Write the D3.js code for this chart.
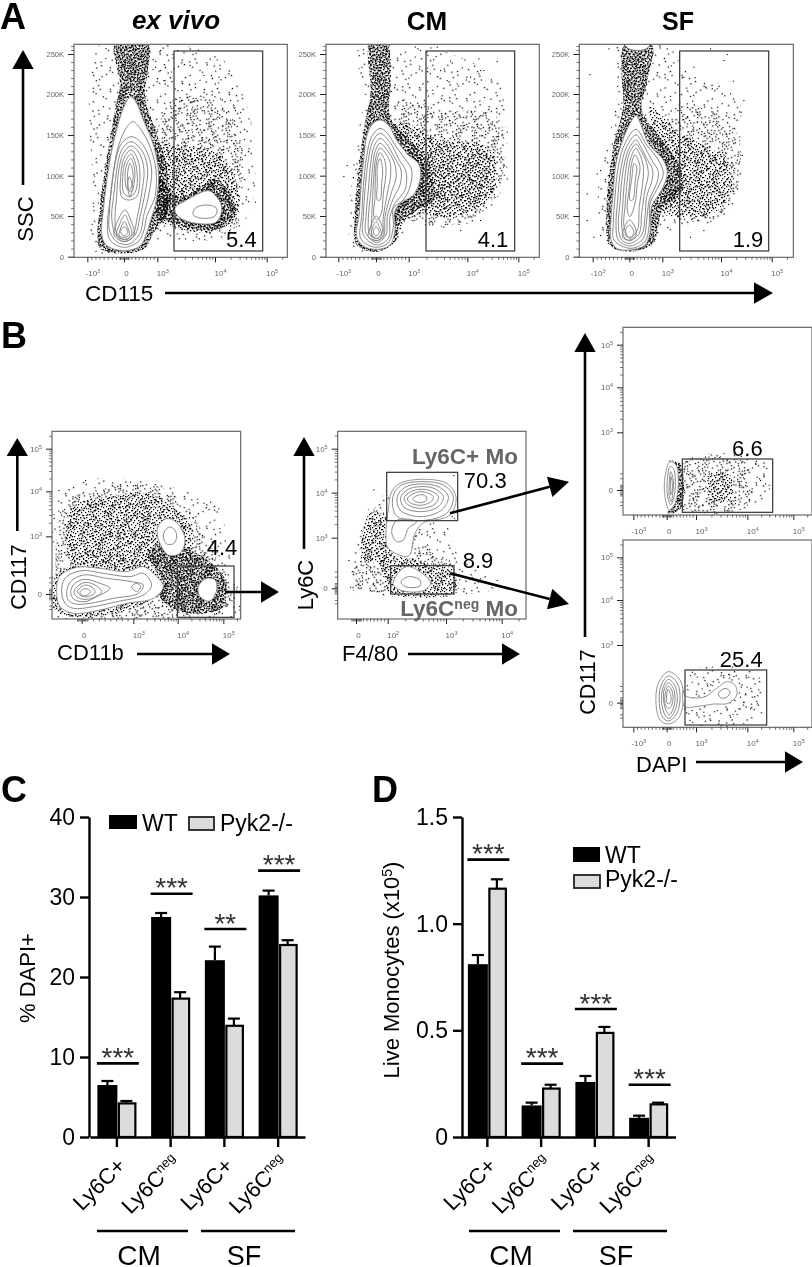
<!DOCTYPE html>
<html><head><meta charset="utf-8">
<script src="https://cdn.jsdelivr.net/npm/d3@7"></script>
<style>
html,body{margin:0;padding:0;background:#fff}
svg{display:block;font-family:"Liberation Sans",Arial,sans-serif;filter:blur(0.3px)}
</style></head><body><div id="chart"></div>
<script>
// ---------- bar chart data ----------
const groups = ['WT','Pyk2-/-'];
const categories = ['CM Ly6C+','CM Ly6Cneg','SF Ly6C+','SF Ly6Cneg'];
const dapiWT = [6.5,27.5,22.1,30.2];
const dapiWTerr = [0.5,0.5,1.7,0.6];
const dapiKO = [4.2,17.3,13.9,24.0];
const dapiKOerr = [0.3,0.8,0.9,0.6];
const dapiSigLevel = [9.2,30.4,26.0,33.3];
const dapiStars = ['***','***','**','***'];
const dapiTicks = [0,10,20,30,40];
const liveWT = [0.81,0.148,0.258,0.09];
const liveWTerr = [0.043,0.013,0.028,0.01];
const liveKO = [1.164,0.227,0.488,0.153];
const liveKOerr = [0.044,0.018,0.028,0.008];
const liveSigLevel = [1.30,0.344,0.60,0.245];
const liveStars = ['***','***','***','***'];
const liveTicks = [0,0.5,1.0,1.5];

// ---------- flow cytometry readings (instrument channels) ----------
const a1Outer = [
 [[392,290],[372,320],[355,370],[340,430],[328,490],[318,560],[310,630],[305,700],[318,735],[370,752],[420,738],[440,700],[452,660],[466,615],[476,530],[462,440],[430,360],[410,310]],
 [[625,572],[560,600],[525,625],[535,650],[590,670],[650,665],[665,620],[645,585]]];
const a1Rings = [
 [[398,365],[375,390],[352,450],[340,520],[330,600],[322,680],[330,720],[370,742],[415,725],[432,690],[440,650],[465,590],[468,510],[450,440],[420,385]],
 [[393,410],[365,430],[345,490],[335,560],[328,640],[328,690],[350,725],[385,733],[420,700],[430,650],[445,590],[455,510],[438,450],[415,420]],
 [[393,425],[365,450],[350,510],[342,580],[335,650],[345,700],[372,725],[405,705],[420,650],[435,580],[443,510],[428,455]],
 [[393,438],[370,460],[355,520],[350,590],[345,650],[350,700],[375,720],[400,700],[412,650],[425,580],[432,510],[418,460]],
 [[393,450],[372,475],[362,530],[365,590],[385,600],[410,590],[420,530],[412,475]],
 [[393,462],[376,485],[368,530],[372,580],[392,590],[408,570],[412,530],[405,485]],
 [[393,475],[380,495],[375,530],[380,565],[395,575],[402,550],[405,520],[400,490]],
 [[390,490],[384,510],[382,540],[388,570],[396,555],[399,520]],
 [[388,530],[383,560],[390,590],[397,560]],
 [[375,630],[352,665],[342,705],[372,725],[402,705],[392,660]],
 [[375,645],[358,675],[350,705],[372,718],[395,705],[385,665]],
 [[373,665],[360,690],[358,708],[372,712],[388,705],[382,680]],
 [[373,680],[362,695],[372,708],[384,697]],
 [[618,615],[585,625],[580,645],[610,655],[645,648],[650,625]]];
const a1Regions = [
 {level:'sparse',pts:[[300,133],[500,133],[660,170],[750,350],[760,600],[720,680],[640,720],[450,720],[280,760],[280,600]]},
 {level:'light',pts:[[520,300],[640,300],[720,400],[720,600],[710,680],[640,700],[520,680],[470,650],[470,400]]},
 {level:'medium',pts:[[470,440],[560,440],[640,450],[700,520],[712,640],[640,695],[520,680],[470,650]]},
 {level:'dense',pts:[[345,133],[445,133],[445,200],[435,290],[470,400],[500,500],[500,640],[460,700],[435,745],[370,760],[300,745],[300,620],[320,480],[345,330],[360,250]]},
 {level:'dense',pts:[[470,530],[540,590],[650,540],[700,600],[700,660],[640,690],[520,670],[470,640]]}];
const a1Outliers = [[650,178],[655,230],[610,225],[590,300],[545,270],[690,300],[745,355],[765,605],[705,330],[530,700],[555,715],[280,522],[278,608],[635,330],[660,295],[610,290],[575,305],[700,320],[720,395],[725,450],[725,500],[480,210],[490,240],[465,200],[480,150],[440,160]];

const a2Outer = [
 [[240,360],[215,375],[200,410],[192,470],[183,560],[178,640],[170,710],[190,738],[230,748],[270,735],[285,690],[283,640],[300,610],[340,585],[362,530],[355,490],[325,465],[290,420],[265,375]]];
const a2Rings = [
 [[240,385],[215,410],[200,470],[190,560],[185,650],[180,710],[195,730],[230,742],[265,728],[280,680],[280,625],[310,600],[330,560],[335,510],[310,470],[285,435],[262,400]],
 [[240,400],[218,425],[205,480],[195,570],[190,650],[190,705],[230,735],[265,715],[270,650],[285,610],[315,570],[318,515],[295,475],[272,430]],
 [[240,415],[222,440],[212,490],[205,570],[198,650],[198,700],[230,728],[258,705],[262,650],[280,595],[300,555],[303,510],[282,470],[262,435]],
 [[240,430],[225,455],[218,500],[212,580],[205,655],[208,700],[230,722],[252,700],[255,650],[275,575],[288,535],[285,495],[268,460]],
 [[240,445],[228,470],[222,520],[218,590],[215,660],[215,700],[230,716],[246,700],[250,650],[262,580],[272,525],[268,480]],
 [[240,458],[230,485],[226,530],[225,590],[222,650],[232,660],[244,640],[250,580],[258,520],[254,480]],
 [[240,475],[232,500],[232,550],[232,600],[240,600],[245,550],[248,510]],
 [[228,648],[212,680],[205,710],[230,722],[252,708],[245,675]],
 [[228,665],[216,688],[215,708],[230,715],[244,705],[238,680]],
 [[228,680],[220,695],[228,708],[238,697]]];
const a2Regions = [
 {level:'sparse',pts:[[180,133],[330,133],[420,150],[590,240],[620,400],[610,560],[530,660],[420,680],[330,680],[300,720],[160,750],[150,620],[170,420],[190,300]]},
 {level:'light',pts:[[300,300],[420,330],[590,350],[610,520],[530,650],[330,660],[290,500]]},
 {level:'medium',pts:[[300,370],[420,420],[560,440],[590,520],[560,610],[440,650],[340,640],[290,690],[290,500]]},
 {level:'mid',pts:[[370,450],[480,470],[570,460],[580,530],[540,600],[440,630],[370,630]]},
 {level:'dense',pts:[[210,133],[260,133],[272,250],[270,350],[330,420],[380,480],[400,600],[350,630],[300,670],[290,720],[230,755],[170,735],[165,640],[180,470],[195,370],[212,280]]}];
const a2Outliers = [[450,182],[535,175],[590,183],[420,210],[535,220],[590,250],[620,395],[130,528],[140,495],[430,680],[480,690],[540,660],[590,520],[620,535],[360,150],[410,140],[575,130],[440,240],[470,250],[510,230],[550,210]];

const a3Outer = [
 [[258,347],[235,380],[215,430],[198,490],[190,570],[183,660],[183,720],[200,745],[240,750],[285,735],[300,700],[305,620],[335,570],[352,520],[340,480],[295,430],[275,380]],
 [[225,133],[260,128],[300,133],[285,148],[240,148]]];
const a3Rings = [
 [[258,388],[225,430],[205,500],[195,590],[190,670],[192,720],[240,745],[285,725],[298,670],[300,610],[325,560],[340,520],[325,480],[290,435]],
 [[258,405],[230,440],[212,510],[203,600],[198,680],[205,720],[240,738],[280,715],[290,660],[298,600],[320,550],[325,515],[305,480],[278,430]],
 [[258,420],[235,450],[218,520],[210,610],[205,680],[215,720],[240,730],[275,705],[285,650],[290,590],[305,545],[308,510],[290,475],[272,440]],
 [[258,432],[238,460],[225,530],[218,620],[215,680],[225,715],[240,722],[268,700],[275,640],[285,570],[295,520],[285,475],[268,445]],
 [[258,445],[242,475],[232,540],[225,620],[222,680],[240,715],[262,690],[268,620],[278,550],[280,500],[268,460]],
 [[255,465],[245,490],[238,560],[232,630],[240,650],[255,610],[262,550],[270,500]],
 [[252,490],[246,530],[240,600],[248,600],[256,540],[260,500]],
 [[238,660],[222,685],[218,712],[240,720],[258,705],[252,675]],
 [[238,675],[226,692],[228,708],[240,712],[252,698]]];
const a3Regions = [
 {level:'sparse',pts:[[200,133],[350,133],[400,200],[560,290],[570,450],[570,560],[510,660],[400,680],[320,720],[170,730],[140,620],[170,440],[200,300]]},
 {level:'light',pts:[[380,330],[480,330],[560,400],[560,570],[500,650],[390,660],[330,600]]},
 {level:'medium',pts:[[300,320],[390,400],[470,440],[530,480],[540,570],[490,640],[390,650],[340,640],[330,500]]},
 {level:'dense',pts:[[225,133],[305,133],[290,250],[275,330],[330,410],[390,500],[395,580],[340,620],[325,680],[310,730],[240,755],[180,735],[170,620],[190,440],[220,320],[215,220]]}];
const a3Outliers = [[118,222],[175,145],[480,145],[530,162],[520,180],[430,200],[400,230],[548,242],[580,300],[572,335],[575,465],[570,520],[110,660],[130,710],[150,705],[140,520],[150,510],[110,580],[460,690],[420,710],[500,265],[465,260],[540,280]];

const b1Outer = [
 [[170,815],[178,770],[230,742],[300,745],[380,755],[430,740],[470,770],[490,800],[460,835],[380,850],[300,870],[220,880],[180,860]],
 [[495,597],[472,625],[478,665],[505,705],[540,700],[555,660],[540,620],[515,598]],
 [[620,775],[595,800],[600,830],[630,843],[650,810],[645,780]]];
const b1Rings = [
 [[185,815],[195,775],[245,752],[310,760],[390,770],[430,760],[455,795],[430,825],[350,845],[280,860],[220,865],[195,850]],
 [[200,815],[212,785],[250,765],[320,775],[395,785],[430,795],[415,820],[340,835],[270,850],[225,852],[205,840]],
 [[212,815],[225,790],[255,778],[300,790],[330,805],[290,830],[255,845],[222,838]],
 [[222,815],[235,797],[258,787],[290,798],[305,815],[280,833],[250,838],[230,830]],
 [[232,815],[243,802],[258,795],[280,805],[285,818],[270,828],[248,830]],
 [[240,817],[250,807],[262,807],[272,815],[262,825],[246,826]],
 [[395,800],[410,790],[422,800],[410,815]],
 [[505,622],[490,645],[500,672],[522,670],[530,645],[520,625]]];
const b1Regions = [
 {level:'sparse',pts:[[150,640],[190,500],[300,475],[420,480],[640,545],[660,570],[700,760],[710,890],[160,890]]},
 {level:'light',pts:[[175,600],[200,540],[300,510],[400,490],[500,510],[580,590],[620,660],[680,760],[690,870],[530,895],[250,895],[160,860],[165,740]]},
 {level:'medium',pts:[[200,680],[220,560],[320,530],[440,520],[520,560],[580,640],[560,720],[480,730],[400,730],[300,730],[220,730]]},
 {level:'dense',pts:[[440,700],[530,680],[590,700],[670,770],[670,860],[600,880],[530,870],[480,830],[490,780]]},
 {level:'medium',pts:[[160,780],[230,730],[430,725],[500,800],[380,870],[230,892],[165,870]]}];
const b1Outliers = [[630,545],[655,565],[610,548],[175,510],[255,480],[390,485],[150,700],[710,800]];

const b2Outer = [
 [[420,238],[360,250],[335,275],[325,330],[318,400],[325,445],[385,468],[405,400],[430,368],[490,355],[515,340],[528,290],[500,250]],
 [[380,500],[350,525],[340,555],[370,573],[430,572],[452,550],[420,515]]];
const b2Rings = [
 [[420,245],[365,255],[342,280],[338,320],[352,350],[420,362],[500,340],[520,290],[490,255]],
 [[420,252],[375,262],[352,290],[360,330],[420,350],[485,330],[505,290],[475,260]],
 [[420,260],[385,268],[362,292],[372,322],[425,335],[475,320],[490,290],[462,265]],
 [[420,268],[392,275],[372,295],[385,315],[425,325],[465,312],[475,290],[450,272]],
 [[420,275],[398,282],[382,297],[398,312],[430,315],[455,303],[460,290],[440,278]],
 [[422,284],[405,290],[398,298],[420,308],[440,300],[437,288]],
 [[352,360],[335,395],[350,425],[370,420],[385,385],[410,365]],
 [[385,530],[363,545],[375,560],[420,558],[420,540]]];
const b2Regions = [
 {level:'sparse',pts:[[300,290],[230,430],[210,560],[240,580],[520,585],[650,560],[540,470],[510,380],[530,360]]},
 {level:'light',pts:[[290,320],[240,440],[225,560],[330,580],[530,580],[520,500],[430,430],[410,400],[350,470]]},
 {level:'medium',pts:[[300,470],[450,490],[520,510],[520,575],[330,580],[310,530]]},
 {level:'medium',pts:[[270,340],[320,350],[330,470],[250,480]]}];
const b2Outliers = [[280,268],[205,480],[520,225],[650,540],[540,620],[210,560]];

const d1Outer = [[[300,425],[285,470],[285,530],[298,570],[315,550],[325,490],[318,435]]];
const d1Rings = [
 [[300,440],[292,480],[293,530],[302,555],[312,530],[316,480],[310,445]],
 [[302,455],[298,490],[298,530],[304,545],[308,520],[310,480]],
 [[303,470],[301,500],[302,525],[305,520],[307,490]]];
const d1Regions = [
 {level:'sparse',pts:[[340,425],[590,425],[590,530],[510,570],[340,570]]},
 {level:'light',pts:[[340,430],[530,430],[530,560],[340,560]]},
 {level:'mid',pts:[[420,460],[480,465],[480,540],[420,540]]},
 {level:'dense',pts:[[295,422],[330,430],[335,560],[310,580],[292,578],[315,550],[325,490],[318,435]]}];
const d1Outliers = [[580,460],[570,480],[585,490],[555,430],[545,505],[580,465],[560,470],[525,495]];

const d2Outer = [[[295,1055],[265,1090],[258,1150],[270,1200],[295,1212],[325,1195],[340,1140],[330,1080]],
 [[340,1110],[345,1127],[400,1132],[440,1105],[470,1085],[495,1095],[500,1125],[475,1150],[430,1152],[380,1160],[345,1160],[338,1140]]];
const d2Rings = [
 [[295,1068],[272,1100],[268,1150],[278,1192],[296,1203],[318,1185],[330,1140],[322,1090]],
 [[295,1078],[278,1105],[275,1150],[285,1185],[297,1195],[312,1178],[322,1140],[315,1098]],
 [[295,1088],[282,1110],[282,1150],[290,1175],[298,1185],[308,1170],[315,1140],[310,1105]],
 [[295,1098],[287,1115],[285,1150],[294,1165],[303,1160],[309,1135],[305,1110]],
 [[295,1108],[290,1125],[292,1150],[300,1150],[303,1130]],
 [[445,1120],[465,1105],[480,1115],[470,1132],[452,1133]]];
const d2Regions = [
 {level:'sparse',pts:[[350,1060],[560,1060],[570,1190],[360,1205]]}];
const d2Outliers = [[380,1070],[360,1065],[410,1090],[460,1065],[475,1062],[490,1068],[505,1075],[535,1070],[565,1108],[395,1105],[425,1095],[445,1085],[512,1100],[525,1120],[545,1130],[560,1150],[520,1145],[540,1165],[505,1165],[470,1165],[440,1170],[400,1175],[385,1190],[420,1200],[480,1190],[500,1182],[365,1170],[355,1180],[510,1130],[530,1100]];

// stipple tile: hand-placed speck columns for each row, used as fill texture
const stippleRows = [[2,9,14,23,31],[5,18,27,35],[0,11,12,21,33],[7,16,25,29],[3,13,20,34],[9,10,24,31,36],[1,6,17,28],[13,22,26,33],[4,8,19,30],[0,15,16,24,35],[11,21,27,32],[3,7,18,29],[12,23,34,36],[1,5,16,26],[9,20,21,31],[3,14,24,28,35],[7,11,18,33],[0,22,26,30],[5,13,15,36],[9,19,24,32],[2,17,28,34],[6,12,21,30],[0,10,25,36],[4,15,19,33],[8,13,23,27],[1,18,29,31],[6,11,22,35],[3,16,26,32],[9,14,20,28],[0,5,24,34],[12,17,30,36]];

// ---------- page ----------
const svg = d3.select('#chart').append('svg').attr('width',812).attr('height',1267).attr('viewBox','0 0 812 1267');
const defs = svg.append('defs');
const specks = stippleRows.flatMap((r,y)=>r.map(x=>[x,y]));
function addTile(id,dots,rot,shift){
  const p = defs.append('pattern').attr('id',id).attr('patternUnits','userSpaceOnUse').attr('width',37).attr('height',31)
    .attr('patternTransform',`rotate(${rot}) translate(${shift[0]},${shift[1]})`);
  p.selectAll('rect').data(dots).join('rect').attr('x',d=>d[0]).attr('y',d=>d[1]).attr('width',1.25).attr('height',1.25).attr('fill','#000');
}
addTile('tA',specks,0,[0,0]);
addTile('tA2',specks,33,[6,5]);
addTile('tA3',specks,71,[3,11]);
addTile('tB',specks.filter((d,i)=>i%2===0),17,[0,0]);
addTile('tC',specks.filter((d,i)=>i%5===0),53,[0,0]);
const levelLayers = {sparse:['tC'],light:['tB'],mid:['tA'],medium:['tA','tC'],dense:['tA','tB','tA2','tA3']};

function rich(sel,parts){
  let pending=0;
  parts.forEach(p=>{
    const s=sel.append('tspan').text(p.t);
    if(p.sup){ s.attr('font-size',p.size).attr('dy',-p.rise); pending=p.rise; }
    else if(pending){ s.attr('dy',pending); pending=0; }
  });
}
function txt(x,y,t,size,o={}){
  const s = svg.append('text').attr('x',x).attr('y',y).attr('font-size',size)
    .attr('text-anchor',o.anchor||'start').attr('fill',o.fill||'#000')
    .attr('font-weight',o.weight||'normal').attr('font-style',o.style||'normal');
  if(o.rot) s.attr('transform',`rotate(${o.rot} ${x} ${y})`);
  if(Array.isArray(t)) rich(s,t); else s.text(t);
  return s;
}
function arrow(x1,y1,x2,y2,hl,hw,w){
  const a=Math.atan2(y2-y1,x2-x1), c=Math.cos(a), s=Math.sin(a);
  const bx=x2-hl*c, by=y2-hl*s;
  svg.append('line').attr('x1',x1).attr('y1',y1).attr('x2',bx).attr('y2',by).attr('stroke','#000').attr('stroke-width',w||2.6);
  svg.append('polygon').attr('points',[[x2,y2],[bx-hw*s,by+hw*c],[bx+hw*s,by-hw*c]].map(p=>p.join(',')).join(' ')).attr('fill','#000');
}

const xLabelsA = [['-10','3'],['0',''],['10','3'],['10','4'],['10','5']];
const yLabelsA = ['250K','200K','150K','100K','50K','0'];
const yLabelsLog = [['10','5'],['10','4'],['10','3'],['0','']];

function logMinors(a,b){return d3.range(2,10).map(k=>a+(b-a)*Math.log10(k));}
function linMinors(a,b,n){return d3.range(1,n).map(k=>a+(b-a)*k/n);}
function pow10Ticks(majors,zeroIdx,frameEnd){
  let out=[];
  for(let i=0;i<majors.length-1;i++){
    if(i<=zeroIdx) out=out.concat(linMinors(majors[i],majors[i+1],9));
    else out=out.concat(logMinors(majors[i],majors[i+1]));
  }
  const n=majors.length, last=majors[n-1], step=last-majors[n-2];
  logMinors(last,last+step).forEach(v=>{ if((v-frameEnd)*(last-frameEnd)>0) out.push(v); });
  d3.range(-14,15,3.5).forEach(v=>out.push(majors[zeroIdx]+v));
  return out;
}

let panelId=0;
function flowPanel(p){
  const id='clip'+(panelId++);
  const x=d3.scaleLinear().domain(p.fx).range(p.fx.map(v=>p.ox+v/3));
  const y=d3.scaleLinear().domain(p.fy).range(p.fy.map(v=>p.oy+v/3));
  const x0=x(p.fx[0]),x1=x(p.fx[1]),y0=y(p.fy[1]),y1=y(p.fy[0]);
  defs.append('clipPath').attr('id',id).append('rect').attr('x',x0).attr('y',y0).attr('width',x1-x0).attr('height',y1-y0);
  const g=svg.append('g');
  const clip=g.append('g').attr('clip-path',`url(#${id})`);
  const lg=d3.line().x(d=>x(d[0])).y(d=>y(d[1])).curve(d3.curveCatmullRomClosed);
  p.regions.forEach(r=>levelLayers[r.level].forEach(t=>clip.append('path').attr('d',lg(r.pts)).attr('fill',`url(#${t})`)));
  clip.selectAll('rect.o').data(p.outliers).join('rect').attr('class','o').attr('x',d=>x(d[0])).attr('y',d=>y(d[1])).attr('width',1.1).attr('height',1.1).attr('fill','#000');
  const lc=d3.line().x(d=>x(d[0])).y(d=>y(d[1])).curve(d3.curveCatmullRomClosed);
  clip.selectAll('path.outer').data(p.outer).join('path').attr('class','outer').attr('d',lc).attr('fill','#fff').attr('stroke','#8a8a8a').attr('stroke-width',.9);
  clip.selectAll('path.ring').data(p.rings).join('path').attr('class','ring').attr('d',lc).attr('fill','none').attr('stroke','#7d7d7d').attr('stroke-width',.9);
  g.append('rect').attr('x',x0).attr('y',y0).attr('width',x1-x0).attr('height',y1-y0).attr('fill','none').attr('stroke','#6a6a6a').attr('stroke-width',1.2);
  p.gates.forEach(r=>g.append('rect').attr('x',x(r[0])).attr('y',y(r[2])).attr('width',x(r[1])-x(r[0])).attr('height',y(r[3])-y(r[2])).attr('fill','none').attr('stroke','#3c3c3c').attr('stroke-width',1.25));
  // axes
  const axX=d3.axisBottom(x).tickValues(p.xt).tickSize(5).tickPadding(8);
  const axXm=d3.axisBottom(x).tickValues(p.xm.filter(v=>v>p.fx[0]&&v<p.fx[1])).tickSize(2.5);
  const gx=g.append('g').attr('transform',`translate(0,${y1})`).call(axX);
  g.append('g').attr('transform',`translate(0,${y1})`).call(axXm).call(s=>s.select('.domain').remove()).call(s=>s.selectAll('text').remove()).call(s=>s.selectAll('line').attr('stroke','#333').attr('stroke-width',.7));
  gx.select('.domain').remove();
  gx.selectAll('line').attr('stroke','#222').attr('stroke-width',1);
  gx.selectAll('.tick text').attr('font-size',8).attr('font-family','inherit').attr('fill','#666').attr('dx',(d,i)=>p.xl[i][1]===''?2:5)
    .each(function(d,i){ d3.select(this).text(null); rich(d3.select(this),[{t:p.xl[i][0]},...(p.xl[i][1]?[{t:p.xl[i][1],sup:true,size:5.5,rise:3}]:[])]); });
  const axY=d3.axisLeft(y).tickValues(p.yt).tickSize(6).tickPadding(4);
  const axYm=d3.axisLeft(y).tickValues(p.ym.filter(v=>v<p.fy[0]&&v>p.fy[1])).tickSize(3);
  const gy=g.append('g').attr('transform',`translate(${x0},0)`).call(axY);
  g.append('g').attr('transform',`translate(${x0},0)`).call(axYm).call(s=>s.select('.domain').remove()).call(s=>s.selectAll('text').remove()).call(s=>s.selectAll('line').attr('stroke','#444').attr('stroke-width',.7));
  gy.select('.domain').remove();
  gy.selectAll('line').attr('stroke','#222').attr('stroke-width',1);
  gy.selectAll('.tick text').attr('font-size',p.ylinear?7.5:8).attr('font-family','inherit').attr('fill','#666')
    .each(function(d,i){ const l=p.yl[i]; d3.select(this).text(null);
      if(typeof l==='string') d3.select(this).text(l);
      else rich(d3.select(this),[{t:l[0]},...(l[1]?[{t:l[1],sup:true,size:5.5,rise:3}]:[])]); });
  p.notes.forEach(n=>txt(x(n[0]),y(n[1]),n[2],22,{anchor:'end'}));
}

function xA(m){return {xt:m,xm:pow10Ticks(m,1,99999),xl:xLabelsA};}
const yA=[162,282,405,527,648,770];
const yAm=[].concat(...yA.slice(0,-1).map((v,i)=>linMinors(v,yA[i+1],5)),[162-24,162-12]);
flowPanel({ox:0,oy:0,fx:[222,862],fy:[772,133],...xA([262,372,472,645,800]),yt:yA,ym:yAm,yl:yLabelsA,ylinear:true,
  regions:a1Regions,outer:a1Outer,rings:a1Rings,outliers:a1Outliers,gates:[[522,788,153,753]],notes:[[770,740,'5.4']]});
flowPanel({ox:300,oy:0,fx:[78,718],fy:[772,133],...xA([115,228,326,502,655]),yt:yA,ym:yAm,yl:yLabelsA,ylinear:true,
  regions:a2Regions,outer:a2Outer,rings:a2Rings,outliers:a2Outliers,gates:[[378,644,153,753]],notes:[[625,740,'4.1']]});
flowPanel({ox:550,oy:0,fx:[88,730],fy:[772,133],...xA([128,238,337,513,665]),yt:yA,ym:yAm,yl:yLabelsA,ylinear:true,
  regions:a3Regions,outer:a3Outer,rings:a3Rings,outliers:a3Outliers,gates:[[389,656,153,753]],notes:[[640,740,'1.9']]});

function logY(m){
  let out=[];
  for(let i=0;i<m.length-2;i++) out=out.concat(logMinors(m[i+1],m[i]));
  d3.range(-16,17,4).forEach(v=>out.push(m[m.length-1]+v));
  out=out.concat(logMinors(m[0],m[0]-(m[1]-m[0])));
  [-50,-35,35,45].forEach(v=>out.push(m[m.length-1]+v));
  return out;
}
flowPanel({ox:0,oy:320,fx:[156,722],fy:[897,334],xt:[245,400,533,670],xm:pow10Ticks([245,400,533,670],0,722),xl:[['0',''],['10','3'],['10','4'],['10','5']],
  yt:[386,514,649,822],ym:logY([386,514,649,822]),yl:yLabelsLog,
  regions:b1Regions,outer:b1Outer,rings:b1Rings,outliers:b1Outliers,gates:[[532,702,738,892]],notes:[[712,705,'4.4']]});
flowPanel({ox:280,oy:400,fx:[173,738],fy:[657,94],xt:[228,323,498,665],xm:pow10Ticks([228,323,498,665],0,738),xl:[['0',''],['10','2'],['10','3'],['10','4']],
  yt:[146,278,413,565],ym:logY([146,278,413,565]),yl:yLabelsLog,
  regions:b2Regions,outer:b2Outer,rings:b2Rings,outliers:b2Outliers,gates:[[320,533,217,362],[332,522,497,582]],notes:[[680,263,'70.3'],[640,505,'8.9']]});
const xD=[190,290,378,532,670];
flowPanel({ox:570,oy:320,fx:[159,726],fy:[585,22],xt:xD,xm:pow10Ticks(xD,1,726),xl:xLabelsA,
  yt:[74,202,337,510],ym:logY([74,202,337,510]),yl:yLabelsLog,
  regions:d1Regions,outer:d1Outer,rings:d1Rings,outliers:d1Outliers,gates:[[337,608,417,577]],notes:[[578,407,'6.6']]});
flowPanel({ox:570,oy:320,fx:[159,726],fy:[1222,660],xt:xD,xm:pow10Ticks(xD,1,726),xl:xLabelsA,
  yt:[712,840,975,1148],ym:logY([712,840,975,1148]),yl:yLabelsLog,
  regions:d2Regions,outer:d2Outer,rings:d2Rings,outliers:d2Outliers,gates:[[345,590,1050,1215]],notes:[[578,1040,'25.4']]});

// panel letters and titles
txt(0,29,'A',36,{weight:'bold'}); txt(1,348,'B',36,{weight:'bold'});
txt(1,802,'C',36,{weight:'bold'}); txt(372,802,'D',36,{weight:'bold'});
txt(176,29,'ex vivo',26,{weight:'bold',style:'italic',anchor:'middle'});
txt(427,30,'CM',26,{weight:'bold',anchor:'middle'});
txt(678,30,'SF',25,{weight:'bold',anchor:'middle'});

// axis names and arrows
txt(33,219,'SSC',22,{rot:-90,anchor:'middle'}); arrow(23,185,23,50,19,10.7);
txt(85,301,'CD115',22.5); arrow(165,293,773,293,19,10.7);
txt(26,577,'CD117',21.5,{rot:-90,anchor:'middle'}); arrow(17.3,531,17.3,438,18,10.7);
txt(57,660,'CD11b',22); arrow(137,654,230,654,18,10.7);
arrow(225,592,279,592,18,10.7);
txt(313,585,'Ly6C',22,{rot:-90,anchor:'middle'}); arrow(304,549,304,437,19,10.7);
txt(342,660.7,'F4/80',22); arrow(408,654,520,654,18,10.7);
arrow(450,513.3,569,481.7,20,10.5);
arrow(450,573.3,569,604,20,10.5);
txt(595,682,'CD117',21.5,{rot:-90,anchor:'middle'}); arrow(585,637,585,333,19,10.7);
txt(636,772,'DAPI',22); arrow(696,762,803,762,18,10.7);
txt(518,464,'Ly6C+ Mo',22.5,{weight:'bold',fill:'#666',anchor:'end'});
txt(518,616,[{t:'Ly6C'},{t:'neg',sup:true,size:14,rise:7},{t:' Mo'}],22.5,{weight:'bold',fill:'#666',anchor:'end'});

// bar charts
const negLabel=[{t:'Ly6C'},{t:'neg',sup:true,size:13,rise:8}];
function barChart(c){
  const y=d3.scaleLinear().domain([0,c.ticks[c.ticks.length-1]]).range([1137,817]);
  const x=d3.scaleBand().domain(categories).range(c.band).padding(0);
  const sub=d3.scaleBand().domain(groups).range([-19.5,19.5]);
  const g=svg.append('g');
  const mid=d=>x(d)+x.bandwidth()/2;
  [[c.wt,c.wtErr,'WT'],[c.ko,c.koErr,'Pyk2-/-']].forEach(([vals,errs,grp])=>{
    const ex=i=>mid(categories[i])+sub(grp)+(grp==='WT'?10:9.5);
    vals.forEach((v,i)=>{
      g.append('line').attr('x1',ex(i)).attr('x2',ex(i)).attr('y1',y(v)).attr('y2',y(v+errs[i])).attr('stroke','#000').attr('stroke-width',2.2);
      g.append('line').attr('x1',ex(i)-6).attr('x2',ex(i)+6).attr('y1',y(v+errs[i])).attr('y2',y(v+errs[i])).attr('stroke','#000').attr('stroke-width',2.2);
    });
  });
  g.selectAll('rect.wt').data(c.wt).join('rect').attr('class','wt').attr('x',(d,i)=>mid(categories[i])+sub('WT')).attr('width',sub.bandwidth()+.5)
    .attr('y',d=>y(d)).attr('height',d=>y(0)-y(d)).attr('fill','#000');
  g.selectAll('rect.ko').data(c.ko).join('rect').attr('class','ko').attr('x',(d,i)=>mid(categories[i])+sub('Pyk2-/-')+2).attr('width',sub.bandwidth()-3)
    .attr('y',d=>y(d)).attr('height',d=>y(0)-y(d)).attr('fill','#dcdcdc').attr('stroke','#000').attr('stroke-width',2.2);
  const ay=d3.axisLeft(y).tickValues(c.ticks).tickSize(9).tickSizeOuter(0).tickPadding(5).tickFormat(c.fmt);
  const gy=g.append('g').attr('transform',`translate(${c.axisX},0)`).call(ay);
  gy.selectAll('line,path').attr('stroke','#000').attr('stroke-width',2.4);
  gy.selectAll('text').attr('font-size',23).attr('font-family','inherit').attr('fill','#000');
  const ax=d3.axisBottom(x).tickSize(10).tickSizeOuter(0);
  const gx=g.append('g').attr('transform','translate(0,1137)').call(ax);
  gx.selectAll('line,path').attr('stroke','#000').attr('stroke-width',2.4);
  gx.selectAll('.tick text').attr('font-size',22).attr('font-family','inherit').attr('fill','#000').attr('text-anchor','end').attr('dy',0).attr('y',0)
    .attr('transform',(d,i)=>i%2?'translate(11,27) rotate(-45)':'translate(10,30) rotate(-45)')
    .each(function(d,i){ d3.select(this).text(null); rich(d3.select(this), i%2?negLabel:[{t:'Ly6C+'}]); });
  c.sig.forEach((v,i)=>{
    const m=mid(categories[i])+c.sigShift;
    g.append('line').attr('x1',m-21).attr('x2',m+21).attr('y1',y(v)).attr('y2',y(v)).attr('stroke','#000').attr('stroke-width',2.6);
    g.append('text').attr('x',m).attr('y',y(v)+3.5).attr('text-anchor','middle').attr('font-size',28).attr('fill','#333').text(c.stars[i]);
  });
  c.brackets.forEach(b=>{
    g.append('line').attr('x1',b[0]).attr('x2',b[1]).attr('y1',1231).attr('y2',1231).attr('stroke','#000').attr('stroke-width',2.6);
  });
  txt(c.cmX,1265,'CM',28,{anchor:'middle'});
  txt(c.sfX,1265,'SF',27,{anchor:'middle'});
  c.legend.forEach((l,i)=>{
    g.append('rect').attr('x',l[0]).attr('y',l[1]).attr('width',l[2]).attr('height',l[3]).attr('fill',i?'#dcdcdc':'#000').attr('stroke',i?'#222':'#000').attr('stroke-width',i?1.8:0);
    txt(l[4],l[5],groups[i],23);
  });
}
barChart({wt:dapiWT,wtErr:dapiWTerr,ko:dapiKO,koErr:dapiKOerr,sig:dapiSigLevel,stars:dapiStars,ticks:dapiTicks,fmt:d=>d,
  band:[90,305],axisX:89,sigShift:1,brackets:[[97,188],[201,295]],cmX:139,sfX:244,
  legend:[[109,815,28,14,142,831],[189,817,25,13,220,831]]});
barChart({wt:liveWT,wtErr:liveWTerr,ko:liveKO,koErr:liveKOerr,sig:liveSigLevel,stars:liveStars,ticks:liveTicks,fmt:d=>d===0?'0':d3.format('.1f')(d),
  band:[460.5,675.5],axisX:462,sigShift:1,brackets:[[469,560],[573,667]],cmX:511,sfX:616,
  legend:[[573,847,27,15,605,863],[574,875,26,13,605,887]]});
txt(35,978,'% DAPI+',22,{rot:-90,anchor:'middle'});
txt(399,970,[{t:'Live Monocytes (x10'},{t:'5',sup:true,size:14,rise:7},{t:')'}],22,{rot:-90,anchor:'middle'});
</script></body></html>
